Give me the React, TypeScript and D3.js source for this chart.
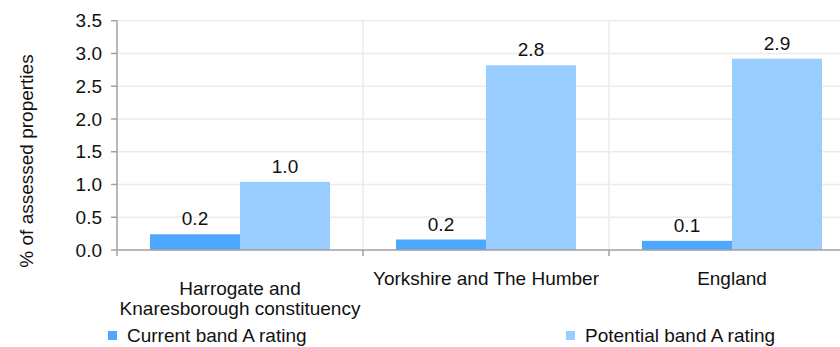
import React from 'react';
import * as d3 from 'd3';

const categories = ['Harrogate and Knaresborough constituency', 'Yorkshire and The Humber', 'England'];
const categoryLines = [['Harrogate and', 'Knaresborough constituency'], ['Yorkshire and The Humber'], ['England']];
const seriesNames = ['Current band A rating', 'Potential band A rating'];
const currentValues = [0.24, 0.16, 0.14];
const potentialValues = [1.04, 2.82, 2.92];
const yTicks = [0, 0.5, 1, 1.5, 2, 2.5, 3, 3.5];

const colors = ['#4da6ff', '#99ccff'];
const width = 840;
const height = 347;
const font = '"Liberation Sans", Arial, sans-serif';
const fs = 19;

const App: React.FC = () => {
  const left = 117;
  const top = 20.7;
  const bottom = 250;
  // the last category runs past the right edge of the picture
  const plotRight = 855;

  const x = d3.scaleBand<string>().domain(categories).range([left, plotRight]).paddingInner(0).paddingOuter(0);
  const x1 = d3.scaleBand<string>().domain(seriesNames).range([0, x.bandwidth()]).paddingInner(0).paddingOuter(33 / 90);
  const y = d3.scaleLinear().domain([0, 3.5]).range([bottom, top]);

  const seriesValues = [currentValues, potentialValues];

  return (
    <svg width={width} height={height} style={{ position: 'absolute', left: 0, top: 0, background: 'white' }} fontFamily={font}>
      {/* horizontal grid */}
      {yTicks.filter(t => t > 0).map(t => (
        <line key={t} x1={left} x2={width} y1={y(t)} y2={y(t)} stroke="#ebebeb" strokeWidth={1.5} />
      ))}
      {/* vertical grid at category boundaries */}
      {categories.slice(1).map(c => (
        <line key={c} x1={x(c)!} x2={x(c)!} y1={top} y2={bottom} stroke="#ebebeb" strokeWidth={1.5} />
      ))}

      {/* bars */}
      {categories.map((c, i) => (
        <g key={c} transform={`translate(${x(c)},0)`}>
          {seriesNames.map((s, j) => {
            const v = seriesValues[j][i];
            const bx = x1(s)!;
            return (
              <g key={s}>
                <rect x={bx} y={y(v)} width={x1.bandwidth()} height={bottom - y(v)} fill={colors[j]} />
                <text x={bx + x1.bandwidth() / 2} y={y(v) - 9} textAnchor="middle" fontSize={fs} fill="#111">
                  {v.toFixed(1)}
                </text>
              </g>
            );
          })}
        </g>
      ))}

      {/* y axis */}
      <line x1={left} x2={left} y1={top} y2={bottom} stroke="#a0a0a0" strokeWidth={1.5} />
      {yTicks.map(t => (
        <g key={t}>
          <line x1={left - 6} x2={left} y1={y(t)} y2={y(t)} stroke="#a0a0a0" strokeWidth={1.5} />
          <text x={left - 15} y={y(t)} dy="0.35em" textAnchor="end" fontSize={fs} fill="#111">
            {t.toFixed(1)}
          </text>
        </g>
      ))}
      <text transform={`translate(33,161) rotate(-90)`} textAnchor="middle" fontSize={fs} fill="#111">
        % of assessed properties
      </text>

      {/* x axis */}
      <line x1={left} x2={width} y1={bottom} y2={bottom} stroke="#a0a0a0" strokeWidth={1.5} />
      {categories.map(c => (
        <line key={c} x1={x(c)!} x2={x(c)!} y1={bottom} y2={bottom + 6} stroke="#a0a0a0" strokeWidth={1.5} />
      ))}
      {categories.map((c, i) => (
        <text key={c} x={x(c)! + x.bandwidth() / 2} y={categoryLines[i].length > 1 ? 295 : 285} textAnchor="middle" fontSize={fs} fill="#111">
          {categoryLines[i].map((line, k) => (
            <tspan key={k} x={x(c)! + x.bandwidth() / 2} dy={k === 0 ? 0 : 20}>{line}</tspan>
          ))}
        </text>
      ))}

      {/* legend */}
      {seriesNames.map((s, j) => {
        const lx = j === 0 ? 108 : 566;
        return (
          <g key={s}>
            <rect x={lx} y={331} width={9} height={9} fill={colors[j]} />
            <text x={lx + 19} y={342} fontSize={fs} fill="#111">{s}</text>
          </g>
        );
      })}
    </svg>
  );
};

export default App;
